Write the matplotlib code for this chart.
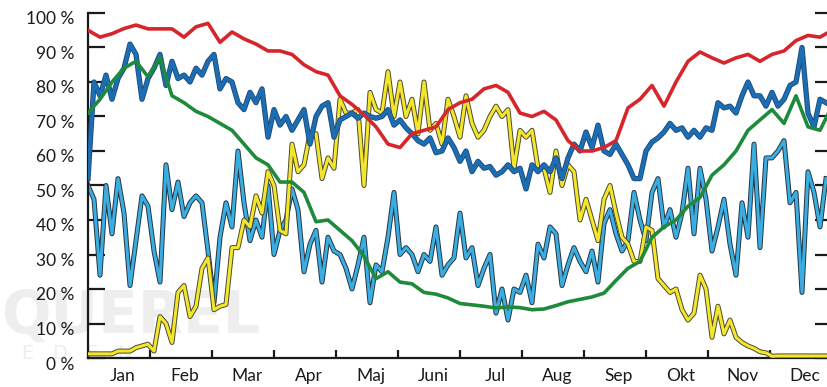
import numpy as np
import matplotlib
matplotlib.use("Agg")
import matplotlib.pyplot as plt
import matplotlib.patheffects as pe
import matplotlib.transforms as mtransforms

# month labels and y ticks
months = ["Jan", "Feb", "Mar", "Apr", "Maj", "Juni", "Jul", "Aug", "Sep", "Okt", "Nov", "Dec"]
yticks = [0, 10, 20, 30, 40, 50, 60, 70, 80, 90, 100]

# smooth series, one value every ~6 days
red = [95, 93, 94, 95.5, 96.5, 95.4, 95.4, 95.4, 93, 96,
       97, 91.5, 94.5, 92.5, 91, 89, 89, 88, 85, 83,
       82, 76, 73.5, 70.5, 67, 62, 61, 65, 66, 67,
       72, 74, 75, 78, 79, 77, 71, 70, 71.5, 69,
       63, 60, 60, 61, 63, 72.5, 75, 79, 73, 80,
       86, 88.7, 87, 85.5, 87, 88, 86, 88, 89, 92,
       93.5, 93, 95]
green = [71, 75, 80, 84, 86, 81.5, 87, 76, 74, 71.5,
         70, 68, 66, 62, 58, 56, 51, 51, 48, 39.5,
         40, 37, 34, 29.5, 23, 25, 22, 21.5, 19, 18.5,
         17.4, 15.8, 15.4, 15, 14.5, 14.8, 14.6, 14, 14.2, 15.2,
         16.3, 17, 17.7, 18.8, 22.5, 26, 28, 35, 38, 40,
         44, 46.5, 53, 56, 60, 66, 69, 72, 68, 76,
         67, 66, 73]

# noisy series, one value every ~3 days
dark_blue = [52, 80, 76, 82, 75, 81, 84, 91, 88, 75,
             81, 84, 88, 79, 86, 81, 82, 80, 84, 82,
             86, 88, 78, 81, 80, 74, 72, 77, 74, 78,
             64, 72, 67.5, 70, 66, 69, 72, 62, 70, 73,
             74, 64, 69, 70, 71, 69.5, 71, 70, 69.5, 70,
             72, 67.5, 69, 66.7, 65, 63, 62, 63.8, 59.5, 60,
             63.8, 61, 57, 60, 54, 57, 55, 55.5, 53, 54,
             56, 54, 55, 49, 56, 54, 56, 54, 58, 52,
             58, 62, 60, 65.5, 61, 67.5, 60, 59, 62, 59,
             56, 52, 52, 60, 62.6, 63.8, 65.5, 68, 66, 66.7,
             64, 66, 64, 66.7, 66, 74, 72.5, 73, 71, 76,
             80, 76, 76, 73, 77, 73, 75, 79, 80, 90,
             71, 67, 75, 74]
light_blue = [50, 46, 24, 50, 36, 52, 42, 21, 34, 47,
              44, 31, 22, 56, 43, 51, 41, 45, 47, 45,
              31, 16, 35, 45, 38, 60, 45, 34, 40, 35,
              50, 30, 37, 40, 49, 43, 25, 33, 37, 22,
              35, 31, 30, 26, 20, 27, 35, 16, 27, 25,
              35, 48, 30, 32, 30, 25, 30, 28, 38, 24,
              27, 29, 42, 29, 32, 21, 26, 30, 13, 20,
              11, 20, 19, 24, 16, 33, 29, 38, 36, 21,
              27, 32, 28, 25, 31, 22, 39, 43, 36, 31,
              34, 48, 40, 34, 48, 52, 38, 43, 35, 42,
              55, 36, 55, 46, 31, 38, 46, 33, 24, 45,
              35, 62, 32, 58, 58, 60, 63, 45, 48, 19,
              54, 48, 38, 52]
yellow = [1.2, 1.2, 1.2, 1.2, 1.2, 2, 2, 2, 3, 3.5,
          4, 2, 12, 10, 4.5, 19, 21, 12, 15, 26,
          29, 14, 15, 15.5, 32, 32, 40, 38, 47, 42,
          54, 50, 37, 36, 62, 54, 56, 65, 65, 52,
          58, 55, 75, 71, 71, 72, 50, 77, 72, 71,
          83, 70, 80, 70, 75, 65, 80, 66, 68, 62,
          75, 70, 64, 76, 68, 64, 66, 70, 73, 70,
          72, 55, 66, 64, 66, 55, 55, 48, 60, 50,
          56, 54, 40, 46, 40, 34, 46, 50, 42, 35,
          33, 28, 28, 38, 37, 23, 21, 19, 20, 14,
          11, 13, 24, 20, 6, 15, 7, 11, 6, 4.5,
          3.5, 2.8, 1.8, 1.5, 0.5, 0.6, 0.6, 0.6, 0.6, 0.6,
          0.6, 0.6, 0.6, 0.6]

# x spacing in months
COARSE = 12 / 62
FINE = 6 / 62

fig = plt.figure(figsize=(8.27, 3.87), dpi=100)
# axes run a bit past the right edge, like the cropped original
ax = fig.add_axes([88 / 827, 29 / 387, 744 / 827, 345 / 387])
ax.patch.set_alpha(0)

# faint watermark behind the lines
ax.text(1 / 827, 54 / 387, "QUEREL", transform=fig.transFigure, fontsize=42,
        fontweight="bold", color="#eeeeee", clip_on=False, zorder=0.5,
        family="DejaVu Sans")
ax.text(22 / 827, 28 / 387, "E   D   E   N", transform=fig.transFigure, fontsize=14,
        color="#eeeeee", clip_on=False, zorder=0.5, family="DejaVu Sans")


def fine_x(vals):
    return np.arange(len(vals)) * FINE


def coarse_x(vals):
    return np.arange(len(vals)) * COARSE


ax.plot(fine_x(light_blue), light_blue, color="#3aaee2", lw=2.2, zorder=2,
        path_effects=[pe.Stroke(linewidth=3.6, foreground="#263540"), pe.Normal()])
ax.plot(fine_x(yellow), yellow, color="#f4e62c", lw=2.2, zorder=3,
        path_effects=[pe.Stroke(linewidth=3.6, foreground="#4a4a30"), pe.Normal()])
ax.plot(fine_x(dark_blue), dark_blue, color="#1d6db2", lw=2.6, zorder=4,
        path_effects=[pe.Stroke(linewidth=3.8, foreground="#1a4a7c"), pe.Normal()])
ax.plot(coarse_x(green), green, color="#1e8a3c", lw=2.6, zorder=5)
ax.plot(coarse_x(red), red, color="#d6262c", lw=2.6, zorder=6)

ax.set_xlim(0, 12)
ax.set_ylim(0, 100)

# month boundaries as ticks, names between them
ax.set_xticks(np.arange(1, 12))
ax.set_xticklabels([])
ax.set_xticks(np.arange(12) + 0.5, minor=True)
ax.set_xticklabels(months, minor=True)
ax.tick_params(axis="x", which="major", direction="in", length=6, width=1.6, colors="#1a1a1a")
ax.tick_params(axis="x", which="minor", length=0, pad=7, labelsize=12.5, labelcolor="#1a1a1a")

ax.set_yticks(yticks)
ax.set_yticklabels([f"{v} %" for v in yticks])
ax.tick_params(axis="y", direction="in", length=12.5, width=1.6, pad=10, labelsize=12.5,
               right=True, colors="#1a1a1a")

for s in ["left", "bottom", "right"]:
    ax.spines[s].set_linewidth(1.6)
    ax.spines[s].set_color("#1a1a1a")
ax.spines["top"].set_visible(False)

# labels sit a little lower / right of their ticks in the original
dy = mtransforms.ScaledTranslation(0, -5 / 100, fig.dpi_scale_trans)
for lbl in ax.get_yticklabels():
    lbl.set_transform(lbl.get_transform() + dy)
dx = mtransforms.ScaledTranslation(4 / 100, 0, fig.dpi_scale_trans)
for lbl in ax.get_xticklabels(minor=True):
    lbl.set_transform(lbl.get_transform() + dx)

for lbl in ax.get_yticklabels() + ax.get_xticklabels(minor=True):
    lbl.set_family("Lato")

fig.savefig("out.png", dpi=100)
